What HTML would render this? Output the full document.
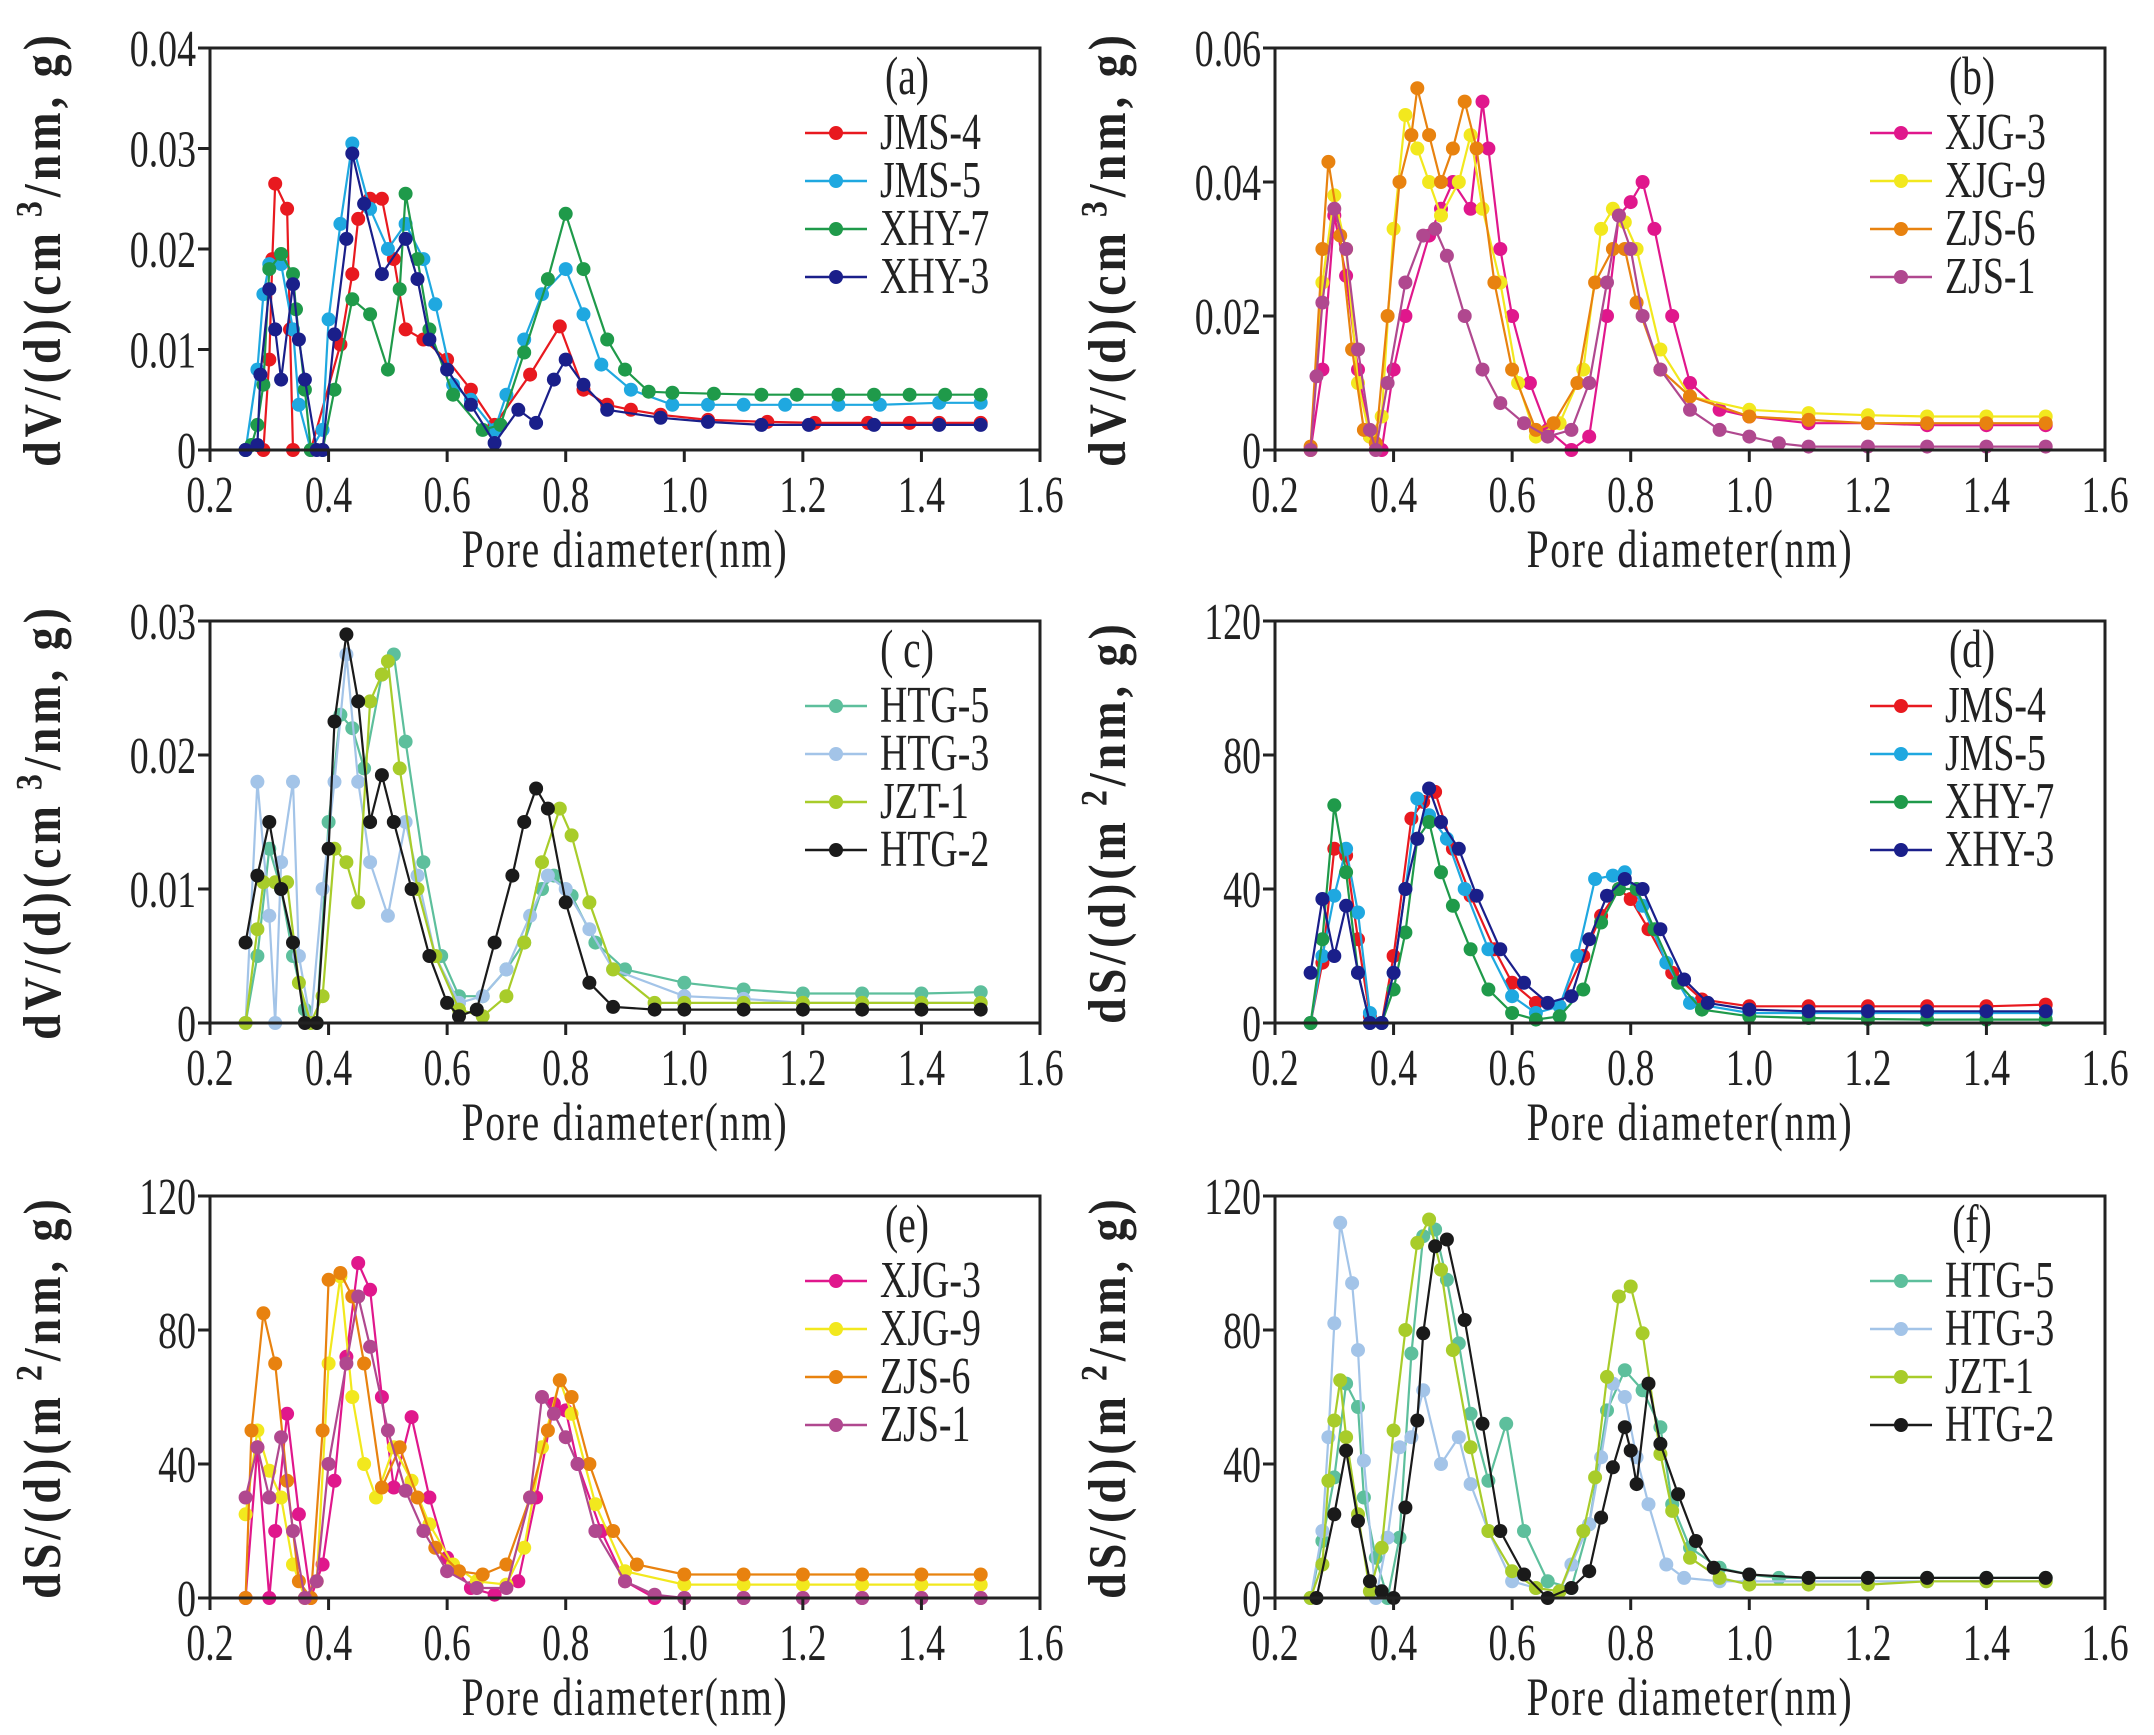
<!DOCTYPE html>
<html><head><meta charset="utf-8"><style>
html,body{margin:0;padding:0;background:#fff;}
svg{display:block;font-family:"Liberation Serif",serif;}
</style></head><body>
<svg id="s" width="2154" height="1735" viewBox="0 0 2154 1735" xmlns="http://www.w3.org/2000/svg"></svg>
<script>
const C={r:"#e8191f",b:"#1fa8e0",g:"#1f9a4a",n:"#1a1f8a",m:"#e0178c",y:"#f2e81e",o:"#e8820f",p:"#b0488f",t:"#5dbf9c",lb:"#a3c4e8",yg:"#a8cc2a",k:"#1a1a1a"};
function P(s){return s.trim().split(/\)\s*,\s*\(/).map(t=>t.replace(/[()]/g,'').split(',').map(Number));}
function T(x,y,txt,fs,anchor,extra){return `<text transform="translate(${x},${y}) scale(0.86,1.18)" font-size="${fs}" text-anchor="${anchor}" fill="#222" ${extra||''}>${txt}</text>`;}
const panels=[
{x0:210,y0:48,lab:"(a)",max:0.04,ticks:[0,0.01,0.02,0.03,0.04],tl:["0","0.01","0.02","0.03","0.04"],yl:"dV",unit:"cm",sup:"3",series:[
["JMS-4",C.r,"(0.26,0),(0.29,0),(0.30,0.009),(0.305,0.019),(0.31,0.0265),(0.33,0.024),(0.335,0.012),(0.34,0),(0.37,0),(0.42,0.0105),(0.44,0.0175),(0.45,0.023),(0.47,0.025),(0.49,0.025),(0.51,0.019),(0.53,0.012),(0.56,0.011),(0.60,0.009),(0.64,0.006),(0.68,0.0025),(0.74,0.0075),(0.79,0.0123),(0.83,0.006),(0.87,0.0045),(0.91,0.004),(0.96,0.0035),(1.04,0.003),(1.14,0.0028),(1.22,0.0027),(1.31,0.0027),(1.38,0.0027),(1.43,0.0027),(1.50,0.0027)"],
["JMS-5",C.b,"(0.26,0),(0.28,0.008),(0.29,0.0155),(0.30,0.0185),(0.32,0.0185),(0.34,0.012),(0.35,0.0045),(0.37,0),(0.39,0.002),(0.40,0.013),(0.42,0.0225),(0.44,0.0305),(0.47,0.024),(0.50,0.02),(0.53,0.0225),(0.56,0.019),(0.58,0.0145),(0.61,0.0065),(0.64,0.005),(0.68,0.002),(0.70,0.0055),(0.73,0.011),(0.76,0.0155),(0.80,0.018),(0.83,0.0135),(0.86,0.0085),(0.91,0.006),(0.98,0.0045),(1.04,0.0045),(1.10,0.0045),(1.17,0.0045),(1.26,0.0045),(1.33,0.0045),(1.43,0.0047),(1.50,0.0047)"],
["XHY-7",C.g,"(0.26,0),(0.27,0.0005),(0.28,0.0025),(0.29,0.0065),(0.30,0.018),(0.32,0.0195),(0.34,0.0175),(0.345,0.014),(0.36,0.006),(0.37,0),(0.39,0),(0.41,0.006),(0.44,0.015),(0.47,0.0135),(0.50,0.008),(0.52,0.016),(0.53,0.0255),(0.55,0.019),(0.57,0.012),(0.61,0.0055),(0.66,0.002),(0.69,0.0025),(0.73,0.0097),(0.77,0.017),(0.80,0.0235),(0.83,0.018),(0.87,0.011),(0.90,0.008),(0.94,0.0058),(0.98,0.0057),(1.05,0.0056),(1.13,0.0055),(1.19,0.0055),(1.26,0.0055),(1.32,0.0055),(1.38,0.0055),(1.44,0.0055),(1.50,0.0055)"],
["XHY-3",C.n,"(0.26,0),(0.28,0.0005),(0.285,0.0075),(0.30,0.016),(0.31,0.012),(0.32,0.007),(0.34,0.0165),(0.35,0.011),(0.36,0.007),(0.38,0),(0.39,0),(0.41,0.0115),(0.43,0.021),(0.44,0.0295),(0.46,0.0245),(0.49,0.0175),(0.53,0.021),(0.55,0.017),(0.57,0.011),(0.60,0.008),(0.64,0.0045),(0.68,0.0007),(0.72,0.004),(0.75,0.0027),(0.78,0.007),(0.80,0.009),(0.83,0.0065),(0.87,0.004),(0.96,0.0032),(1.04,0.0028),(1.13,0.0025),(1.21,0.0025),(1.32,0.0025),(1.43,0.0025),(1.50,0.0025)"]]},
{x0:1275,y0:48,lab:"(b)",max:0.06,ticks:[0,0.02,0.04,0.06],tl:["0","0.02","0.04","0.06"],yl:"dV",unit:"cm",sup:"3",series:[
["XJG-3",C.m,"(0.26,0),(0.28,0.012),(0.30,0.035),(0.32,0.026),(0.34,0.012),(0.36,0.002),(0.38,0),(0.40,0.012),(0.42,0.02),(0.46,0.032),(0.48,0.036),(0.50,0.04),(0.53,0.036),(0.55,0.052),(0.56,0.045),(0.58,0.03),(0.60,0.02),(0.63,0.01),(0.66,0.003),(0.70,0),(0.73,0.002),(0.76,0.02),(0.78,0.035),(0.80,0.037),(0.82,0.04),(0.84,0.033),(0.87,0.02),(0.90,0.01),(0.95,0.006),(1.0,0.005),(1.1,0.004),(1.2,0.004),(1.3,0.0037),(1.4,0.0037),(1.5,0.0037)"],
["XJG-9",C.y,"(0.26,0),(0.28,0.025),(0.30,0.038),(0.32,0.03),(0.34,0.01),(0.36,0.002),(0.38,0.005),(0.40,0.033),(0.42,0.05),(0.44,0.045),(0.46,0.04),(0.48,0.035),(0.51,0.04),(0.53,0.047),(0.55,0.036),(0.58,0.025),(0.61,0.01),(0.64,0.002),(0.68,0.004),(0.72,0.012),(0.75,0.033),(0.77,0.036),(0.79,0.034),(0.81,0.03),(0.85,0.015),(0.90,0.008),(1.0,0.006),(1.1,0.0055),(1.2,0.0052),(1.3,0.005),(1.4,0.005),(1.5,0.005)"],
["ZJS-6",C.o,"(0.26,0.0005),(0.28,0.03),(0.29,0.043),(0.31,0.032),(0.33,0.015),(0.35,0.003),(0.37,0.001),(0.39,0.02),(0.41,0.04),(0.43,0.047),(0.44,0.054),(0.46,0.047),(0.48,0.04),(0.50,0.045),(0.52,0.052),(0.54,0.045),(0.57,0.025),(0.60,0.012),(0.64,0.003),(0.67,0.004),(0.71,0.01),(0.74,0.025),(0.77,0.03),(0.79,0.03),(0.81,0.022),(0.85,0.012),(0.90,0.008),(1.0,0.005),(1.1,0.0045),(1.2,0.004),(1.3,0.004),(1.4,0.004),(1.5,0.004)"],
["ZJS-1",C.p,"(0.26,0),(0.27,0.011),(0.28,0.022),(0.30,0.036),(0.32,0.03),(0.34,0.015),(0.36,0.003),(0.37,0),(0.39,0.01),(0.42,0.025),(0.45,0.032),(0.47,0.033),(0.49,0.029),(0.52,0.02),(0.55,0.012),(0.58,0.007),(0.62,0.004),(0.66,0.002),(0.70,0.003),(0.73,0.01),(0.76,0.025),(0.78,0.035),(0.80,0.03),(0.82,0.02),(0.85,0.012),(0.90,0.006),(0.95,0.003),(1.0,0.002),(1.05,0.001),(1.1,0.0005),(1.2,0.0005),(1.3,0.0005),(1.4,0.0005),(1.5,0.0005)"]]},
{x0:210,y0:621,lab:"( c)",max:0.03,ticks:[0,0.01,0.02,0.03],tl:["0","0.01","0.02","0.03"],yl:"dV",unit:"cm",sup:"3",series:[
["HTG-5",C.t,"(0.26,0),(0.28,0.005),(0.30,0.013),(0.32,0.01),(0.34,0.005),(0.36,0.001),(0.38,0),(0.40,0.015),(0.42,0.023),(0.44,0.022),(0.46,0.019),(0.49,0.026),(0.51,0.0275),(0.53,0.021),(0.56,0.012),(0.59,0.005),(0.62,0.002),(0.66,0.002),(0.70,0.004),(0.73,0.006),(0.76,0.01),(0.78,0.011),(0.81,0.0095),(0.85,0.006),(0.90,0.004),(1.0,0.003),(1.1,0.0025),(1.2,0.0022),(1.3,0.0022),(1.4,0.0022),(1.5,0.0023)"],
["HTG-3",C.lb,"(0.26,0),(0.28,0.018),(0.30,0.008),(0.31,0),(0.32,0.012),(0.34,0.018),(0.35,0.005),(0.37,0),(0.39,0.01),(0.41,0.018),(0.43,0.0275),(0.45,0.018),(0.47,0.012),(0.50,0.008),(0.53,0.015),(0.55,0.011),(0.58,0.005),(0.62,0.0015),(0.66,0.002),(0.70,0.004),(0.74,0.008),(0.77,0.011),(0.80,0.01),(0.84,0.007),(0.88,0.004),(1.0,0.002),(1.1,0.0018),(1.2,0.0015),(1.3,0.0015),(1.4,0.0015),(1.5,0.0015)"],
["JZT-1",C.yg,"(0.26,0),(0.28,0.007),(0.29,0.0105),(0.31,0.0105),(0.33,0.0105),(0.35,0.003),(0.37,0),(0.39,0.002),(0.41,0.013),(0.43,0.012),(0.45,0.009),(0.47,0.024),(0.49,0.026),(0.50,0.027),(0.52,0.019),(0.55,0.01),(0.58,0.005),(0.62,0.001),(0.66,0.0005),(0.70,0.002),(0.73,0.006),(0.76,0.012),(0.79,0.016),(0.81,0.014),(0.84,0.009),(0.88,0.004),(0.95,0.0015),(1.0,0.0015),(1.1,0.0015),(1.2,0.0015),(1.3,0.0015),(1.4,0.0015),(1.5,0.0015)"],
["HTG-2",C.k,"(0.26,0.006),(0.28,0.011),(0.30,0.015),(0.32,0.01),(0.34,0.006),(0.36,0),(0.38,0),(0.40,0.013),(0.41,0.0225),(0.43,0.029),(0.45,0.024),(0.47,0.015),(0.49,0.0185),(0.51,0.015),(0.54,0.01),(0.57,0.005),(0.60,0.0015),(0.62,0.0005),(0.65,0.001),(0.68,0.006),(0.71,0.011),(0.73,0.015),(0.75,0.0175),(0.77,0.016),(0.80,0.009),(0.84,0.003),(0.88,0.0012),(0.95,0.001),(1.0,0.001),(1.1,0.001),(1.2,0.001),(1.3,0.001),(1.4,0.001),(1.5,0.001)"]]},
{x0:1275,y0:621,lab:"(d)",max:120,ticks:[0,40,80,120],tl:["0","40","80","120"],yl:"dS",unit:"m",sup:"2",series:[
["JMS-4",C.r,"(0.26,0),(0.28,18),(0.30,52),(0.32,50),(0.34,25),(0.36,2),(0.38,0),(0.40,20),(0.43,61),(0.45,66),(0.47,69),(0.50,52),(0.53,38),(0.57,22),(0.60,12),(0.64,6),(0.68,5),(0.72,20),(0.75,32),(0.78,40),(0.80,37),(0.83,28),(0.87,15),(0.92,7),(1.0,5),(1.1,5),(1.2,5),(1.3,5),(1.4,5),(1.5,5.5)"],
["JMS-5",C.b,"(0.26,0),(0.28,20),(0.30,38),(0.32,52),(0.34,33),(0.36,3),(0.38,0),(0.40,15),(0.42,40),(0.44,67),(0.46,62),(0.49,55),(0.52,40),(0.56,22),(0.60,8),(0.64,3),(0.68,5),(0.71,20),(0.74,43),(0.77,44),(0.79,45),(0.82,35),(0.86,18),(0.90,6),(1.0,3),(1.1,3),(1.2,3),(1.3,3),(1.4,3),(1.5,3)"],
["XHY-7",C.g,"(0.26,0),(0.28,25),(0.30,65),(0.32,45),(0.34,15),(0.36,0),(0.38,0),(0.40,10),(0.42,27),(0.44,55),(0.46,60),(0.48,45),(0.50,35),(0.53,22),(0.56,10),(0.60,3),(0.64,1),(0.68,2),(0.72,10),(0.75,30),(0.78,40),(0.81,40),(0.84,28),(0.88,12),(0.92,4),(1.0,2),(1.1,1.5),(1.2,1.2),(1.3,1),(1.4,1),(1.5,1)"],
["XHY-3",C.n,"(0.26,15),(0.28,37),(0.30,20),(0.32,35),(0.34,15),(0.36,0),(0.38,0),(0.40,15),(0.42,40),(0.44,55),(0.46,70),(0.48,60),(0.51,52),(0.54,38),(0.58,22),(0.62,12),(0.66,6),(0.70,8),(0.73,25),(0.76,38),(0.79,43),(0.82,40),(0.85,28),(0.89,13),(0.93,6),(1.0,4),(1.1,3.5),(1.2,3.5),(1.3,3.5),(1.4,3.5),(1.5,3.5)"]]},
{x0:210,y0:1196,lab:"(e)",max:120,ticks:[0,40,80,120],tl:["0","40","80","120"],yl:"dS",unit:"m",sup:"2",series:[
["XJG-3",C.m,"(0.26,0),(0.28,45),(0.30,0),(0.31,20),(0.33,55),(0.35,25),(0.37,0),(0.39,10),(0.41,35),(0.43,72),(0.45,100),(0.47,92),(0.49,60),(0.51,33),(0.54,54),(0.57,30),(0.60,12),(0.64,3),(0.68,1),(0.72,5),(0.75,30),(0.78,58),(0.80,56),(0.82,40),(0.86,20),(0.90,5),(0.95,0),(1.0,0),(1.1,0),(1.2,0),(1.3,0),(1.4,0),(1.5,0)"],
["XJG-9",C.y,"(0.26,25),(0.28,50),(0.30,38),(0.32,30),(0.34,10),(0.36,0),(0.38,5),(0.40,70),(0.42,96),(0.44,60),(0.46,40),(0.48,30),(0.51,45),(0.54,35),(0.57,22),(0.61,10),(0.65,5),(0.70,4),(0.73,15),(0.76,45),(0.79,65),(0.81,55),(0.85,28),(0.90,8),(1.0,4),(1.1,4),(1.2,4),(1.3,4),(1.4,4),(1.5,4)"],
["ZJS-6",C.o,"(0.26,0),(0.27,50),(0.29,85),(0.31,70),(0.33,35),(0.35,5),(0.37,0),(0.39,50),(0.40,95),(0.42,97),(0.44,90),(0.46,70),(0.49,33),(0.52,45),(0.55,30),(0.58,15),(0.62,8),(0.66,7),(0.70,10),(0.74,30),(0.77,50),(0.79,65),(0.81,60),(0.84,40),(0.88,20),(0.92,10),(1.0,7),(1.1,7),(1.2,7),(1.3,7),(1.4,7),(1.5,7)"],
["ZJS-1",C.p,"(0.26,30),(0.28,45),(0.30,30),(0.32,48),(0.34,20),(0.36,0),(0.38,5),(0.40,40),(0.43,70),(0.45,90),(0.47,75),(0.50,50),(0.53,32),(0.56,20),(0.60,8),(0.65,3),(0.70,3),(0.74,30),(0.76,60),(0.78,55),(0.80,48),(0.82,40),(0.85,20),(0.90,5),(0.95,1),(1.0,0),(1.1,0),(1.2,0),(1.3,0),(1.4,0),(1.5,0)"]]},
{x0:1275,y0:1196,lab:"(f)",max:120,ticks:[0,40,80,120],tl:["0","40","80","120"],yl:"dS",unit:"m",sup:"2",series:[
["HTG-5",C.t,"(0.26,0),(0.28,17),(0.30,36),(0.32,64),(0.34,57),(0.35,30),(0.37,12),(0.39,0),(0.41,18),(0.43,73),(0.45,108),(0.47,110),(0.49,95),(0.51,76),(0.53,55),(0.56,35),(0.59,52),(0.62,20),(0.66,5),(0.70,3),(0.73,22),(0.76,56),(0.79,68),(0.82,62),(0.85,51),(0.87,28),(0.90,15),(0.95,9),(1.0,7),(1.05,6),(1.1,6),(1.2,6),(1.3,6),(1.4,6),(1.5,6)"],
["HTG-3",C.lb,"(0.26,0),(0.28,20),(0.29,48),(0.30,82),(0.31,112),(0.33,94),(0.34,74),(0.35,41),(0.37,0),(0.39,18),(0.41,45),(0.43,48),(0.45,62),(0.48,40),(0.51,48),(0.53,34),(0.56,20),(0.60,5),(0.64,3),(0.68,2),(0.70,10),(0.73,22),(0.75,42),(0.77,64),(0.79,60),(0.81,42),(0.83,28),(0.86,10),(0.89,6),(0.95,5),(1.0,5),(1.1,5),(1.2,5),(1.3,5),(1.4,5),(1.5,5)"],
["JZT-1",C.yg,"(0.26,0),(0.28,10),(0.29,35),(0.30,53),(0.31,65),(0.32,48),(0.34,25),(0.36,2),(0.38,15),(0.40,50),(0.42,80),(0.44,106),(0.46,113),(0.48,98),(0.50,74),(0.53,45),(0.56,20),(0.60,8),(0.64,3),(0.68,2),(0.72,20),(0.74,36),(0.76,66),(0.78,90),(0.80,93),(0.82,79),(0.85,43),(0.87,26),(0.90,12),(0.95,6),(1.0,4),(1.1,4),(1.2,4),(1.3,5),(1.4,5),(1.5,5)"],
["HTG-2",C.k,"(0.27,0),(0.30,25),(0.32,44),(0.34,23),(0.36,5),(0.38,2),(0.40,0),(0.42,27),(0.44,53),(0.45,79),(0.47,105),(0.49,107),(0.52,83),(0.55,52),(0.58,20),(0.62,7),(0.66,0),(0.70,3),(0.73,8),(0.75,24),(0.77,39),(0.79,51),(0.80,44),(0.81,34),(0.83,64),(0.85,46),(0.88,31),(0.91,17),(0.94,9),(1.0,7),(1.1,6),(1.2,6),(1.3,6),(1.4,6),(1.5,6)"]]}
];
let o='';
const W=830,H=402;
for(const p of panels){
 const X=v=>p.x0+(v-0.2)/1.4*W, Y=v=>p.y0+H-v/p.max*H, yb=p.y0+H;
 for(const [name,col,d] of p.series){
  const pts=P(d);
  o+=`<polyline fill="none" stroke="${col}" stroke-width="2.2" points="${pts.map(q=>X(q[0]).toFixed(1)+','+Y(q[1]).toFixed(1)).join(' ')}"/>`;
  for(const q of pts)o+=`<circle cx="${X(q[0]).toFixed(1)}" cy="${Y(q[1]).toFixed(1)}" r="7" fill="${col}"/>`;
 }
 o+=`<rect x="${p.x0}" y="${p.y0}" width="${W}" height="${H}" fill="none" stroke="#222" stroke-width="3"/>`;
 for(let i=0;i<=7;i++){const v=0.2+i*0.2,x=X(v);
  o+=`<line x1="${x}" y1="${yb}" x2="${x}" y2="${yb+12}" stroke="#222" stroke-width="3"/>`;
  o+=T(x,yb+62,v.toFixed(1),44,"middle");}
 p.ticks.forEach((v,i)=>{const y=Y(v);
  o+=`<line x1="${p.x0-12}" y1="${y}" x2="${p.x0}" y2="${y}" stroke="#222" stroke-width="3"/>`;
  o+=T(p.x0-14,y+18,p.tl[i],44,"end");});
 o+=T(p.x0+W/2,yb+117,"Pore  diameter(nm)",46,"middle",'letter-spacing="2"');
 const cx=p.x0-166, cy=p.y0+H/2;
 o+=`<text transform="translate(${cx+16},${cy}) rotate(-90) scale(1,1.15)" font-size="46" font-weight="bold" text-anchor="middle" fill="#222" letter-spacing="4">${p.yl}/(d)(${p.unit}<tspan dy="-16" font-size="32"> ${p.sup}</tspan><tspan dy="16">/nm, g)</tspan></text>`;
 o+=T(p.x0+697,p.y0+46,p.lab,46,"middle");
 p.series.forEach(([name,col],i)=>{const y=p.y0+85+i*48;
  o+=`<line x1="${p.x0+595}" y1="${y}" x2="${p.x0+657}" y2="${y}" stroke="${col}" stroke-width="2.5"/><circle cx="${p.x0+626}" cy="${y}" r="7" fill="${col}"/>`;
  o+=T(p.x0+670,y+16,name,44,"start");});
}
document.getElementById('s').innerHTML=o;
</script>
</body></html>
